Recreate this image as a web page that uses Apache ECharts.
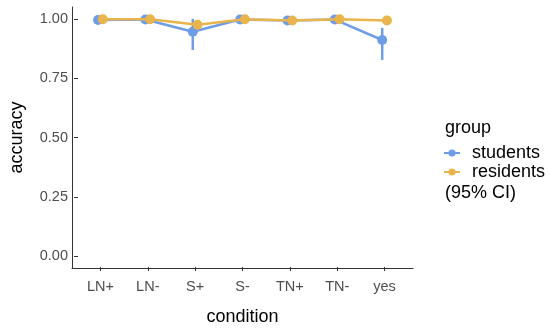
<!DOCTYPE html>
<html><head><meta charset="utf-8">
<script src="https://cdn.jsdelivr.net/npm/echarts@6/dist/echarts.min.js"></script>
<style>html,body{margin:0;padding:0;background:#fff}#c{width:550px;height:331px}</style>
</head><body><div id="c"></div>
<script>
const categories = ['LN+','LN-','S+','S-','TN+','TN-','yes'];
const studentsAcc = [0.995,0.997,0.946,0.997,0.993,0.997,0.911];
const studentsLo  = [0.985,0.990,0.869,0.990,0.980,0.990,0.827];
const studentsHi  = [1.000,1.000,1.000,1.000,1.000,1.000,0.962];
const residentsAcc = [0.998,0.998,0.975,0.998,0.993,0.998,0.993];
const residentsLo  = [0.990,0.990,0.955,0.990,0.985,0.990,0.985];
const residentsHi  = [1.000,1.000,0.990,1.000,1.000,1.000,1.000];
const yTickValues = [0, 0.25, 0.5, 0.75, 1];

const blue = '#6e9de8', orange = '#e9b44c';
const dodge = 0.05;
const font = 'Liberation Sans, Arial, sans-serif';

const G1 = {left:72, width:341, top:7, height:261};
const unit = G1.width/7.2;
const G2left = G1.left + 0.1*unit;
const G2width = 7*unit;
const yUnit = G1.height/1.1;
const G3top = G1.top + 0.05*yUnit;
const G3height = yUnit;

function pts(vals, off){ return vals.map((v,i)=>[i+off, v]); }
function bars(lo, hi, off){ return lo.map((l,i)=>[i+off, l, hi[i]]); }
function errRender(color){
  return function(params, api){
    const a = api.coord([api.value(0), api.value(1)]);
    const b = api.coord([api.value(0), api.value(2)]);
    return {type:'line', shape:{x1:a[0],y1:a[1],x2:b[0],y2:b[1]}, style:{stroke:color, lineWidth:2.5}};
  };
}
const hidden = {axisLine:{show:false}, axisTick:{show:false}, axisLabel:{show:false}, splitLine:{show:false}};

const chart = echarts.init(document.getElementById('c'));
chart.setOption({
  animation:false,
  textStyle:{fontFamily:font},
  grid:[
    {left:G1.left, width:G1.width, top:G1.top, height:G1.height},
    {left:G2left, width:G2width, top:G1.top, height:G1.height},
    {left:G1.left, width:G1.width, top:G3top, height:G3height}
  ],
  xAxis:[
    {gridIndex:0, type:'value', min:-0.6, max:6.6, axisLine:{show:true,onZero:false,lineStyle:{color:'#333',width:1}},
     axisTick:{show:false}, axisLabel:{show:false}, splitLine:{show:false}},
    {gridIndex:1, type:'category', data:categories, boundaryGap:true,
     axisLine:{show:false}, axisTick:{show:true, alignWithLabel:true, length:4, lineStyle:{color:'#333'}},
     axisLabel:{color:'#4d4d4d', fontSize:14.5, margin:12, fontFamily:font},
     name:'condition', nameLocation:'middle', nameGap:41, nameTextStyle:{fontSize:18, color:'#000', fontFamily:font}},
    Object.assign({gridIndex:2, type:'value', min:0, max:1}, hidden)
  ],
  yAxis:[
    {gridIndex:0, type:'value', min:-0.05, max:1.05, axisLine:{show:true,onZero:false,lineStyle:{color:'#333',width:1}},
     axisTick:{show:false}, axisLabel:{show:false}, splitLine:{show:false}},
    Object.assign({gridIndex:1, type:'value', min:0, max:1}, hidden),
    {gridIndex:2, type:'value', min:0, max:1, interval:0.25,
     axisLine:{show:false}, axisTick:{show:true, length:4, lineStyle:{color:'#333'}},
     axisLabel:{color:'#4d4d4d', fontSize:14.5, margin:10, fontFamily:font,
       formatter:v=>{const t=yTickValues.find(x=>Math.abs(x-v)<1e-9);return t===undefined?'':t.toFixed(2);}},
     splitLine:{show:false},
     name:'accuracy', nameLocation:'middle', nameGap:52, nameTextStyle:{fontSize:18, color:'#000', fontFamily:font}}
  ],
  legend:{
    orient:'vertical', left:438, top:139, itemGap:1, itemWidth:16, itemHeight:9,
    textStyle:{fontSize:18, color:'#000', fontFamily:font, padding:[0,0,0,7]},
    data:['students','residents']
  },
  graphic:[
    {type:'text', left:445, top:119, style:{text:'group', font:'18px '+font, fill:'#000'}},
    {type:'text', left:445, top:184, style:{text:'(95% CI)', font:'18px '+font, fill:'#000'}}
  ],
  series:[
    {name:'students CI', type:'custom', xAxisIndex:0, yAxisIndex:0, renderItem:errRender(blue), data:bars(studentsLo, studentsHi, -dodge), z:2, encode:{x:0,y:[1,2]}},
    {name:'students', type:'line', xAxisIndex:0, yAxisIndex:0, data:pts(studentsAcc, -dodge), color:blue,
     symbol:'circle', symbolSize:10, lineStyle:{width:2.5, color:blue}, itemStyle:{color:blue}, z:3},
    {name:'residents CI', type:'custom', xAxisIndex:0, yAxisIndex:0, renderItem:errRender(orange), data:bars(residentsLo, residentsHi, dodge), z:4, encode:{x:0,y:[1,2]}},
    {name:'residents', type:'line', xAxisIndex:0, yAxisIndex:0, data:pts(residentsAcc, dodge), color:orange,
     symbol:'circle', symbolSize:10, lineStyle:{width:2.5, color:orange}, itemStyle:{color:orange}, z:5}
  ]
});
</script></body></html>
